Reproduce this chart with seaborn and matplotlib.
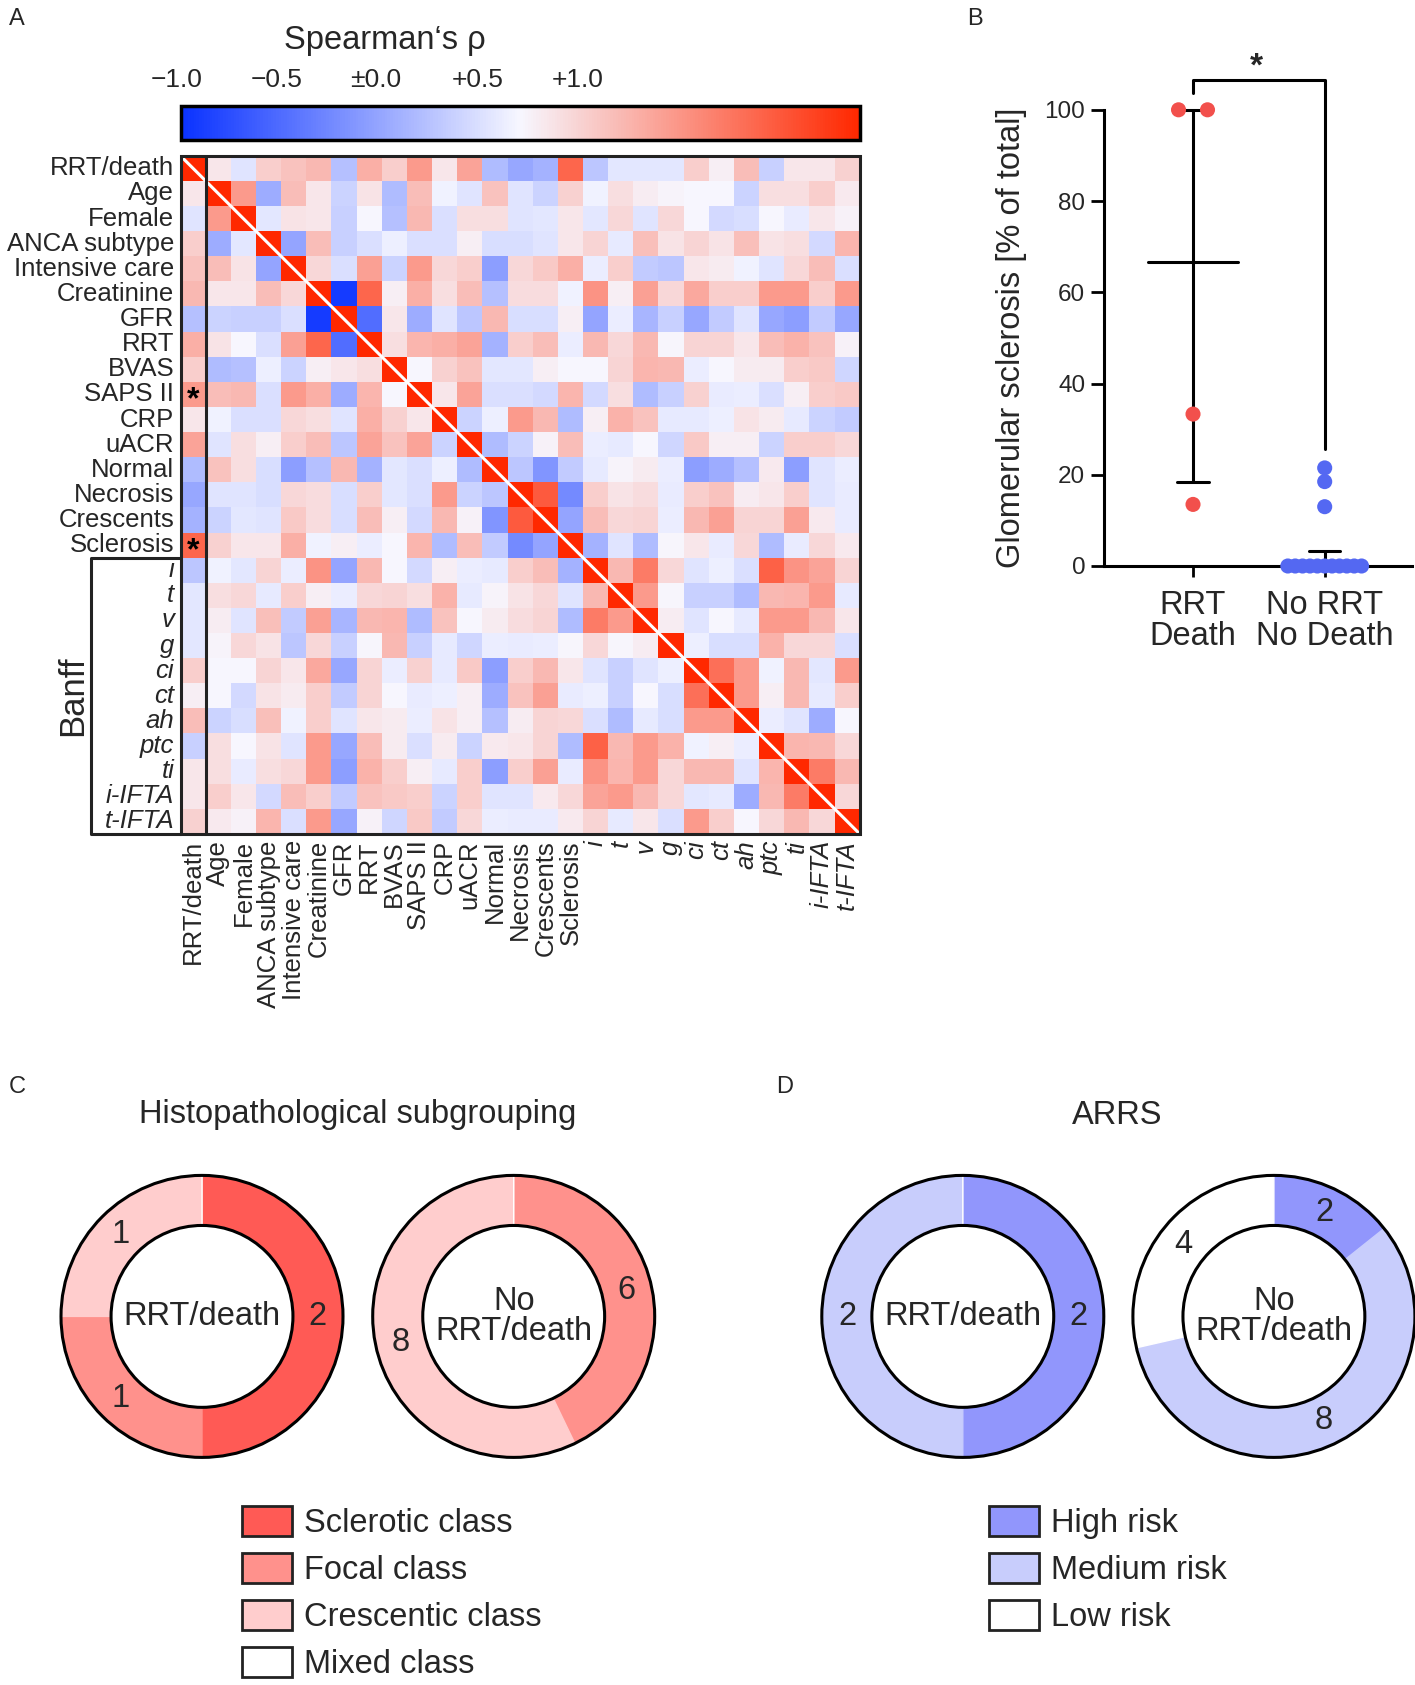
import numpy as np
import pandas as pd
import matplotlib
matplotlib.use("Agg")
import matplotlib.pyplot as plt
import seaborn as sns
from matplotlib.colors import LinearSegmentedColormap
from matplotlib.patches import Patch, Circle, Rectangle

# ---------------- DATA ----------------
var_labels = ["RRT/death", "Age", "Female", "ANCA subtype", "Intensive care", "Creatinine",
              "GFR", "RRT", "BVAS", "SAPS II", "CRP", "uACR", "Normal", "Necrosis",
              "Crescents", "Sclerosis", "i", "t", "v", "g", "ci", "ct", "ah", "ptc", "ti",
              "i-IFTA", "t-IFTA"]
banff_labels = ["i", "t", "v", "g", "ci", "ct", "ah", "ptc", "ti", "i-IFTA", "t-IFTA"]

# upper triangle of Spearman's rho, each row = correlations with the following variables
rho_rrt_death = [0.08, -0.10, 0.20, 0.25, 0.30, -0.28, 0.35, 0.20, 0.45, 0.08, 0.40, -0.30, -0.40,
                 -0.35, 0.70, -0.25, -0.08, -0.08, -0.08, 0.20, 0.04, 0.28, -0.20, 0.08, 0.08, 0.18]
rho_age = [0.45, -0.38, 0.28, 0.08, -0.18, 0.10, -0.30, 0.28, -0.03, -0.10, 0.25, -0.10, -0.18,
           0.18, -0.03, 0.12, 0.05, 0.02, 0.00, 0.00, -0.18, 0.12, 0.12, 0.20, 0.07]
rho_female = [-0.08, 0.10, 0.08, -0.20, 0.00, -0.28, 0.30, -0.12, 0.12, 0.12, -0.10, -0.08, 0.08,
              -0.08, 0.15, -0.10, 0.15, 0.00, -0.15, -0.13, 0.00, -0.06, 0.08, 0.03]
rho_anca = [-0.42, 0.28, -0.20, -0.12, -0.04, -0.12, -0.12, 0.04, -0.13, -0.13, -0.10, 0.08, 0.17,
            -0.07, 0.27, 0.10, 0.17, 0.10, 0.27, 0.10, 0.12, -0.15, 0.32]
rho_icu = [0.15, -0.12, 0.42, -0.18, 0.45, 0.15, 0.20, -0.45, 0.15, 0.22, 0.35, -0.05, 0.20, -0.22,
           -0.25, 0.08, 0.06, -0.03, -0.10, 0.15, 0.28, -0.12]
rho_creatinine = [-0.95, 0.70, 0.04, 0.35, 0.12, 0.28, -0.28, 0.13, 0.13, -0.03, 0.48, 0.04, 0.42,
                  0.15, 0.38, 0.20, 0.20, 0.45, 0.45, 0.20, 0.45]
rho_gfr = [-0.70, 0.08, -0.38, -0.10, -0.25, 0.30, -0.13, -0.13, 0.04, -0.42, -0.05, -0.33, -0.20,
           -0.40, -0.22, -0.10, -0.40, -0.45, -0.22, -0.40]
rho_rrt = [0.12, 0.32, 0.35, 0.40, -0.35, 0.20, 0.28, -0.05, 0.30, 0.15, 0.30, 0.01, 0.17, 0.17,
           0.08, 0.28, 0.33, 0.25, 0.03]
rho_bvas = [0.00, 0.18, 0.25, -0.08, -0.08, 0.04, 0.00, 0.00, 0.17, 0.32, 0.30, -0.05, 0.00, 0.06,
            0.06, 0.20, 0.22, -0.17]
rho_saps = [0.08, 0.40, -0.12, -0.12, -0.15, 0.32, -0.15, 0.12, -0.30, -0.20, 0.18, -0.06, -0.05,
            -0.12, 0.04, 0.20, 0.22]
rho_crp = [-0.18, -0.04, 0.45, 0.30, -0.30, 0.04, 0.33, 0.25, -0.07, -0.07, -0.04, 0.10, 0.06,
           -0.07, -0.18, -0.22]
rho_uacr = [-0.30, -0.18, 0.03, 0.28, -0.05, -0.07, 0.00, -0.17, 0.22, 0.04, 0.04, -0.18, 0.20,
            0.20, 0.15]
rho_normal = [-0.25, -0.50, -0.22, -0.07, 0.02, 0.06, -0.05, -0.45, -0.38, -0.28, 0.07, -0.45,
              -0.10, -0.05]
rho_necrosis = [0.75, -0.55, 0.20, 0.10, 0.13, -0.06, 0.20, 0.25, 0.05, 0.08, 0.20, -0.10, -0.06]
rho_crescents = [-0.42, 0.28, 0.15, 0.17, -0.05, 0.30, 0.42, 0.17, 0.17, 0.42, 0.07, -0.06]
rho_sclerosis = [-0.35, -0.10, -0.30, 0.01, 0.08, -0.06, 0.15, -0.30, -0.06, 0.15, 0.07]
rho_i = [0.30, 0.60, 0.15, -0.10, -0.04, -0.12, 0.72, 0.48, 0.40, 0.17]
rho_t = [0.45, 0.01, -0.20, -0.20, -0.30, 0.30, 0.32, 0.45, -0.07]
rho_v = [0.05, -0.10, 0.00, -0.07, 0.45, 0.45, 0.30, 0.08]
rho_g = [-0.04, -0.13, -0.13, 0.33, 0.15, 0.15, -0.12]
rho_ci = [0.65, 0.45, -0.03, 0.30, -0.08, 0.45]
rho_ct = [0.45, 0.04, 0.30, -0.07, 0.20]
rho_ah = [-0.05, -0.10, -0.38, 0.00]
rho_ptc = [0.32, 0.30, 0.15]
rho_ti = [0.60, 0.30]
rho_iifta = [0.15]
significant_with_outcome = ["SAPS II", "Sclerosis"]

cbar_labels = ["\u22121.0", "\u22120.5", "\u00b10.0", "+0.5", "+1.0"]

# Panel B: glomerular sclerosis (% of total)
b_groups = ["RRT\nDeath", "No RRT\nNo Death"]
scl_rrt_death = [100, 100, 33.3, 13.5]
scl_no_rrt = [21.5, 18.5, 13, 0, 0, 0, 0, 0, 0, 0, 0, 0, 0, 0]

# Panel C: histopathological subgrouping
hist_classes = ["Sclerotic class", "Focal class", "Crescentic class", "Mixed class"]
hist_rrt = [2, 1, 1, 0]
hist_no_rrt = [0, 6, 8, 0]
# Panel D: ARRS
arrs_classes = ["High risk", "Medium risk", "Low risk"]
arrs_rrt = [2, 2, 0]
arrs_no_rrt = [2, 8, 4]

# ---------------- STYLE ----------------
sns.set_theme(style="white")
plt.rcParams["font.family"] = ["Liberation Sans", "DejaVu Sans"]

hist_colors = ["#FF5A55", "#FF918C", "#FFCDCD", "#FFFFFF"]
arrs_colors = ["#9196FC", "#C8CDFC", "#FFFFFF"]
dot_colors = ["#F2504C", "#5468F2"]
cmap = LinearSegmentedColormap.from_list("rho", ["#0A32FF", "#F7F7FF", "#FF2800"])

W, H = 1415, 1685
fig = plt.figure(figsize=(W / 100, H / 100), dpi=100)


def fx(px):
    return px / W


def fy(py):
    return 1 - py / H


FS = 23.5
LW = 2.2

# ---------------- PANEL A ----------------
rows = [rho_rrt_death, rho_age, rho_female, rho_anca, rho_icu, rho_creatinine, rho_gfr, rho_rrt,
        rho_bvas, rho_saps, rho_crp, rho_uacr, rho_normal, rho_necrosis, rho_crescents,
        rho_sclerosis, rho_i, rho_t, rho_v, rho_g, rho_ci, rho_ct, rho_ah, rho_ptc, rho_ti, rho_iifta]
n = len(var_labels)
M = np.eye(n)
for k, r in enumerate(rows):
    M[k, k + 1:] = r
    M[k + 1:, k] = r
corr = pd.DataFrame(M, index=var_labels, columns=var_labels)

ax = fig.add_axes([fx(180.5), fy(833.9), fx(679.2), 678.1 / H])
cax = fig.add_axes([fx(180.5), fy(139.7), fx(679.2), 33.3 / H])
sns.heatmap(corr, ax=ax, cbar_ax=cax, cmap=cmap, vmin=-1, vmax=1,
            cbar_kws={"orientation": "horizontal"}, xticklabels=True, yticklabels=True)
ax.tick_params(axis="both", length=0, labelsize=18.5)
ax.tick_params(axis="y", pad=4.5)
ax.tick_params(axis="x", pad=4.5)
for t in ax.get_yticklabels():
    t.set_rotation(0)
    t.set_ha("right")
    if t.get_text() in banff_labels:
        t.set_fontstyle("italic")
for t in ax.get_xticklabels():
    t.set_rotation(90)
    t.set_va("top")
    if t.get_text() in banff_labels:
        t.set_fontstyle("italic")
ax.set_xlabel("")
ax.set_ylabel("")

ax.plot([0, n], [0, n], color="white", lw=2.2, solid_capstyle="butt")
ax.add_patch(Rectangle((0, 0), n, n, fill=False, lw=LW, ec="#222222", clip_on=False, zorder=5))
ax.plot([1, 1], [0, n], color="#222222", lw=LW, zorder=5)
b0 = var_labels.index("i")
ax.plot([0, -3.55, -3.55, 0], [b0, b0, n, n], color="#222222", lw=LW, clip_on=False)
ax.text(-4.3, (b0 + n) / 2, "Banff", rotation=90, ha="center", va="center", fontsize=25)
for lab in significant_with_outcome:
    r = var_labels.index(lab)
    ax.text(0.5, r + 0.75, "*", ha="center", va="center", fontsize=23, fontweight="bold",
            color="black")

cb = ax.collections[0].colorbar
cb.set_ticks([-0.5, 0, 0.5])
cb.outline.set_linewidth(2.5)
cb.outline.set_edgecolor("black")
cax.xaxis.set_ticks_position("both")
cax.tick_params(axis="x", direction="in", length=8, width=2, color="black",
                top=True, bottom=True, labelbottom=False, labeltop=False)
cbar_label_pos = [-0.005, 0.142, 0.288, 0.438, 0.585]
for lbl, xp in zip(cbar_labels, cbar_label_pos):
    cax.text(xp, 1.78, lbl, transform=cax.transAxes, ha="center", va="center", fontsize=19)
fig.text(fx(385), fy(40), "Spearman\u2018s \u03c1", ha="center", va="center", fontsize=FS)

# ---------------- PANEL B ----------------
recs = []
for gi, (g, vals) in enumerate(zip(b_groups, [scl_rrt_death, scl_no_rrt])):
    s = pd.Series(vals)
    for v, sub in s.groupby(s):
        k = len(sub)
        step = min(0.22, 0.56 / (k - 1)) if k > 1 else 0
        for j in range(k):
            recs.append({"group": g, "value": v, "xpos": gi + (j - (k - 1) / 2) * step})
dfb = pd.DataFrame(recs)

axb = fig.add_axes([fx(1104), fy(566), fx(1411.6 - 1104), (566 - 109.8) / H])
for gi, vals in enumerate([scl_rrt_death, scl_no_rrt]):
    q1, med, q3 = np.percentile(vals, [25, 50, 75], method="weibull")
    axb.plot([gi - 0.34, gi + 0.34], [med, med], color="black", lw=LW, zorder=2, clip_on=False)
    axb.plot([gi, gi], [q1, q3], color="black", lw=LW, zorder=2, clip_on=False)
    for q in (q1, q3):
        axb.plot([gi - 0.12, gi + 0.12], [q, q], color="black", lw=LW, zorder=2, clip_on=False)
sns.scatterplot(data=dfb, x="xpos", y="value", hue="group", palette=dot_colors, s=118,
                edgecolor="none", legend=False, ax=axb, zorder=3, clip_on=False)
axb.set_xlim(-0.676, 1.66)
axb.set_ylim(0, 100)
axb.set_xticks([0, 1])
axb.set_xticklabels(b_groups, fontsize=FS, linespacing=1.0)
axb.set_yticks([0, 20, 40, 60, 80, 100])
axb.tick_params(axis="y", labelsize=17.5, length=9.5, width=2, left=True, pad=4, color="black")
axb.tick_params(axis="x", length=8, width=2, bottom=True, pad=9, color="black")
for sp in ["top", "right"]:
    axb.spines[sp].set_visible(False)
for sp in ["left", "bottom"]:
    axb.spines[sp].set_linewidth(LW)
    axb.spines[sp].set_color("black")
axb.set_xlabel("")
axb.set_ylabel("Glomerular sclerosis [% of total]", fontsize=FS)
axb.yaxis.set_label_coords(-0.25, 0.5)
axb.plot([0, 0, 1, 1], [103.6, 106.5, 106.5, 25.7], color="black", lw=LW, clip_on=False)
axb.text(0.48, 106.0, "*", ha="center", va="bottom", fontsize=24, fontweight="bold")

# ---------------- PANELS C & D ----------------
R = 141


def donut(cx, cy, counts, colors, center_text):
    a = fig.add_axes([fx(cx - 1.1 * R), fy(cy + 1.1 * R), fx(2.2 * R), 2.2 * R / H])
    wedges, texts = a.pie(counts, colors=colors, startangle=90, counterclock=False, radius=1,
                          labels=[str(c) if c > 0 else "" for c in counts], labeldistance=0.82,
                          wedgeprops=dict(width=0.355, linewidth=1),
                          textprops=dict(fontsize=FS))
    for w in wedges:
        w.set_edgecolor(w.get_facecolor())
    for t in texts:
        t.set_ha("center")
        t.set_va("center")
    a.add_patch(Circle((0, 0), 1, fill=False, lw=LW, ec="black"))
    a.add_patch(Circle((0, 0), 0.645, fill=False, lw=LW, ec="black"))
    a.text(0, 0, center_text, ha="center", va="center", fontsize=FS, linespacing=0.95)
    a.set_xlim(-1.1, 1.1)
    a.set_ylim(-1.1, 1.1)
    a.set_aspect("equal")
    a.axis("off")


donut(202, 1316.4, hist_rrt, hist_colors, "RRT/death")
donut(513.7, 1316.4, hist_no_rrt, hist_colors, "No\nRRT/death")
donut(962.8, 1316.4, arrs_rrt, arrs_colors, "RRT/death")
donut(1273.9, 1316.4, arrs_no_rrt, arrs_colors, "No\nRRT/death")

fig.text(fx(358), fy(1115), "Histopathological subgrouping", ha="center", va="center", fontsize=FS)
fig.text(fx(1117.6), fy(1115), "ARRS", ha="center", va="center", fontsize=FS)


def legend(x, y, names, colors):
    handles = [Patch(facecolor=c, edgecolor="#222222", linewidth=2, label=nm)
               for nm, c in zip(names, colors)]
    fig.legend(handles=handles, loc="upper left", bbox_to_anchor=(fx(x), fy(y)), frameon=False,
               fontsize=FS, handlelength=1.53, handleheight=1.04, labelspacing=0.42,
               handletextpad=0.37, borderaxespad=0, borderpad=0)


legend(241.8, 1506, hist_classes, hist_colors)
legend(988.6, 1506, arrs_classes, arrs_colors)

# panel letters
for lt, x, y in [("A", 9, 8), ("B", 967, 8), ("C", 9, 1076), ("D", 776, 1076)]:
    fig.text(fx(x), fy(y), lt, ha="left", va="top", fontsize=17)

fig.savefig("out.png", dpi=100)
